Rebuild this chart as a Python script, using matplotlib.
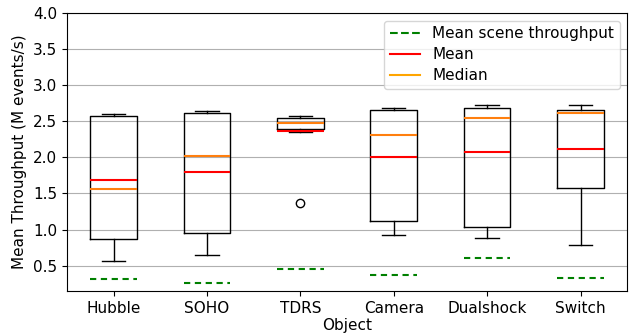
import matplotlib
matplotlib.use("Agg")
import matplotlib.pyplot as plt
from matplotlib.lines import Line2D

objects = ["Hubble", "SOHO", "TDRS", "Camera", "Dualshock", "Switch"]
whisker_low = [0.57, 0.65, 2.35, 0.92, 0.88, 0.78]
q1 = [0.87, 0.95, 2.40, 1.12, 1.04, 1.57]
medians = [1.56, 2.02, 2.47, 2.31, 2.55, 2.61]
q3 = [2.57, 2.61, 2.54, 2.66, 2.69, 2.66]
whisker_high = [2.60, 2.64, 2.57, 2.68, 2.73, 2.73]
means = [1.68, 1.80, 2.36, 2.01, 2.08, 2.12]
outliers = [[], [], [1.37], [], [], []]
scene_throughput = [0.31, 0.26, 0.45, 0.37, 0.61, 0.33]

fs = 11
fig = plt.figure(figsize=(6.31, 3.34), dpi=100)
ax = fig.add_axes([0.106, 0.129, 0.888, 0.832])

stats = []
for i, name in enumerate(objects):
    stats.append(dict(label=name, whislo=whisker_low[i], q1=q1[i], med=medians[i],
                      q3=q3[i], whishi=whisker_high[i], mean=means[i], fliers=outliers[i]))

positions = list(range(1, len(objects) + 1))
ax.bxp(stats, positions=positions, widths=0.5, showmeans=True, meanline=True,
       boxprops=dict(color="black", linewidth=1.0),
       whiskerprops=dict(color="black", linewidth=1.0),
       capprops=dict(color="black", linewidth=1.0),
       medianprops=dict(color="#ff7f0e", linewidth=1.5),
       meanprops=dict(color="red", linestyle="-", linewidth=1.5),
       flierprops=dict(marker="o", markerfacecolor="none", markeredgecolor="black", markersize=6))

for p, v in zip(positions, scene_throughput):
    ax.hlines(v, p - 0.25, p + 0.25, colors="green", linestyles=(0, (3, 2.2)), linewidth=1.5)

ax.set_xlim(0.5, 6.5)
ax.set_ylim(0.15, 4.0)
ax.set_yticks([0.5, 1.0, 1.5, 2.0, 2.5, 3.0, 3.5, 4.0])
ax.yaxis.grid(True, color="#b0b0b0", linewidth=0.8)
ax.set_axisbelow(True)
ax.tick_params(labelsize=fs)
ax.set_xlabel("Object", fontsize=fs, labelpad=2)
ax.set_ylabel("Mean Throughput (M events/s)", fontsize=fs)

handles = [Line2D([], [], color="green", linestyle="--", linewidth=1.5),
           Line2D([], [], color="red", linewidth=1.5),
           Line2D([], [], color="orange", linewidth=1.5)]
ax.legend(handles, ["Mean scene throughput", "Mean", "Median"], loc="upper right",
          fontsize=fs, borderpad=0.35, labelspacing=0.4, handlelength=2.0)

fig.savefig("out.png", dpi=100)
